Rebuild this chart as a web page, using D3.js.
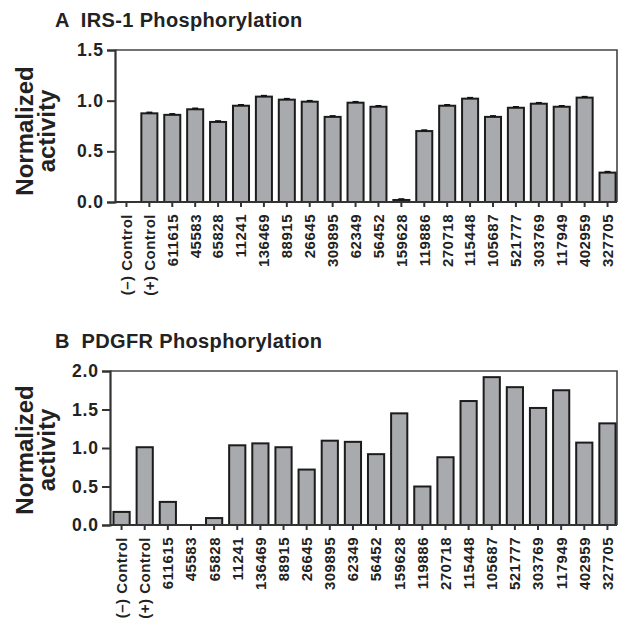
<!DOCTYPE html>
<html>
<head>
<meta charset="utf-8">
<script src="https://cdn.jsdelivr.net/npm/d3@7"></script>
<style>
  body { margin: 0; background: #fff; }
  svg { display: block; font-family: "Liberation Sans", Arial, sans-serif; font-weight: bold; }
</style>
</head>
<body>
<svg width="619" height="619"></svg>
<script>
const categories = ["(\u2013) Control", "(+) Control", "611615", "45583", "65828", "11241", "136469",
  "88915", "26645", "309895", "62349", "56452", "159628", "119886", "270718", "115448",
  "105687", "521777", "303769", "117949", "402959", "327705"];

const irsValues = [0, 0.875, 0.86, 0.915, 0.79, 0.95, 1.04, 1.01, 0.99, 0.84, 0.98, 0.94,
  0.02, 0.70, 0.95, 1.02, 0.84, 0.93, 0.97, 0.94, 1.03, 0.29];
const irsErrors = [0, 0.01, 0.01, 0.01, 0.01, 0.01, 0.01, 0.01, 0.01, 0.01, 0.01, 0.01,
  0.01, 0.01, 0.01, 0.01, 0.01, 0.01, 0.01, 0.01, 0.01, 0.01];
const irsTicks = [0, 0.5, 1.0, 1.5];

const pdgfrValues = [0.17, 1.01, 0.30, 0, 0.09, 1.035, 1.06, 1.01, 0.72, 1.095, 1.08, 0.92,
  1.45, 0.50, 0.88, 1.61, 1.92, 1.79, 1.52, 1.75, 1.07, 1.32];
const pdgfrTicks = [0, 0.5, 1.0, 1.5, 2.0];

const svg = d3.select("svg");

const drawPanel = (p) => {
  const g = svg.append("g");
  const x = d3.scaleBand().domain(categories).range([p.left, 619])
    .paddingInner(0.3).paddingOuter(0.15);
  const y = d3.scaleLinear().domain(p.domain).range([p.bottom, p.top]);
  const data = categories.map((c, i) => ({ c, v: p.values[i], e: p.errors ? p.errors[i] : 0 }));

  // title
  g.append("text").attr("x", 55).attr("y", p.titleY)
    .attr("font-size", 20).attr("letter-spacing", 0.35).attr("fill", "#222").attr("xml:space", "preserve")
    .text(p.title);

  // box (top and right)
  g.append("path")
    .attr("d", `M${p.left},${p.top}H617V${p.bottom}`)
    .attr("fill", "none").attr("stroke", "#444").attr("stroke-width", 1.6);

  // bars
  g.selectAll("rect.bar").data(data.filter(d => d.v > 0)).enter().append("rect")
    .attr("class", "bar")
    .attr("x", d => x(d.c))
    .attr("width", x.bandwidth())
    .attr("y", d => y(d.v))
    .attr("height", d => y(0) - y(d.v))
    .attr("fill", "#a9aaae").attr("stroke", "#1c1c1c").attr("stroke-width", 2);

  // error bars
  if (p.errors) {
    const eb = g.selectAll("g.err").data(data.filter(d => d.v > 0)).enter().append("g");
    eb.append("line")
      .attr("x1", d => x(d.c) + x.bandwidth() / 2).attr("x2", d => x(d.c) + x.bandwidth() / 2)
      .attr("y1", d => y(d.v + d.e)).attr("y2", d => y(d.v))
      .attr("stroke", "#111").attr("stroke-width", 1.5);
    eb.append("line")
      .attr("x1", d => x(d.c) + x.bandwidth() / 2 - 3).attr("x2", d => x(d.c) + x.bandwidth() / 2 + 3)
      .attr("y1", d => y(d.v + d.e)).attr("y2", d => y(d.v + d.e))
      .attr("stroke", "#111").attr("stroke-width", 1.5);
  }

  // y axis
  const yAxis = g.append("g").attr("transform", `translate(${p.left},0)`)
    .call(d3.axisLeft(y).tickValues(p.ticks).tickFormat(d3.format(".1f")).tickSize(8).tickPadding(3));
  yAxis.select(".domain").attr("stroke", "#333").attr("stroke-width", 2.2);
  yAxis.selectAll(".tick line").attr("stroke", "#333").attr("stroke-width", 2);
  yAxis.selectAll(".tick text").attr("font-size", 17.5).attr("fill", "#222")
    .attr("font-family", "Liberation Sans, Arial, sans-serif").attr("font-weight", "bold")
    .attr("letter-spacing", 0.9);

  // x axis
  const xAxis = g.append("g").attr("transform", `translate(0,${p.bottom})`)
    .call(d3.axisBottom(x).tickSizeOuter(0).tickSize(5));
  xAxis.select(".domain").attr("stroke", "#333").attr("stroke-width", 2.2)
    .attr("d", `M${p.left},0H617`);
  xAxis.selectAll(".tick line").attr("stroke", "#333").attr("stroke-width", 2);
  xAxis.selectAll(".tick text")
    .attr("font-size", 15).attr("fill", "#222")
    .attr("font-family", "Liberation Sans, Arial, sans-serif").attr("font-weight", "bold")
    .attr("letter-spacing", 0.5)
    .attr("text-anchor", "end")
    .attr("transform", "rotate(-90)")
    .attr("x", -12).attr("y", 0).attr("dy", "0.36em");

  // y axis title
  const yt = g.append("text").attr("font-size", 24).attr("fill", "#222")
    .attr("text-anchor", "middle")
    .attr("transform", `translate(0,${p.titleMid}) rotate(-90)`);
  yt.append("tspan").attr("x", 0).attr("y", 33).text("Normalized");
  yt.append("tspan").attr("x", 0).attr("y", 55).text("activity");
};

drawPanel({ title: "A  IRS-1 Phosphorylation", titleY: 27, left: 115, top: 50, bottom: 202,
  domain: [0, 1.5], ticks: irsTicks, values: irsValues, errors: irsErrors, titleMid: 131 });
drawPanel({ title: "B  PDGFR Phosphorylation", titleY: 348, left: 110, top: 371, bottom: 525,
  domain: [0, 2], ticks: pdgfrTicks, values: pdgfrValues, errors: null, titleMid: 450 });
</script>
</body>
</html>
